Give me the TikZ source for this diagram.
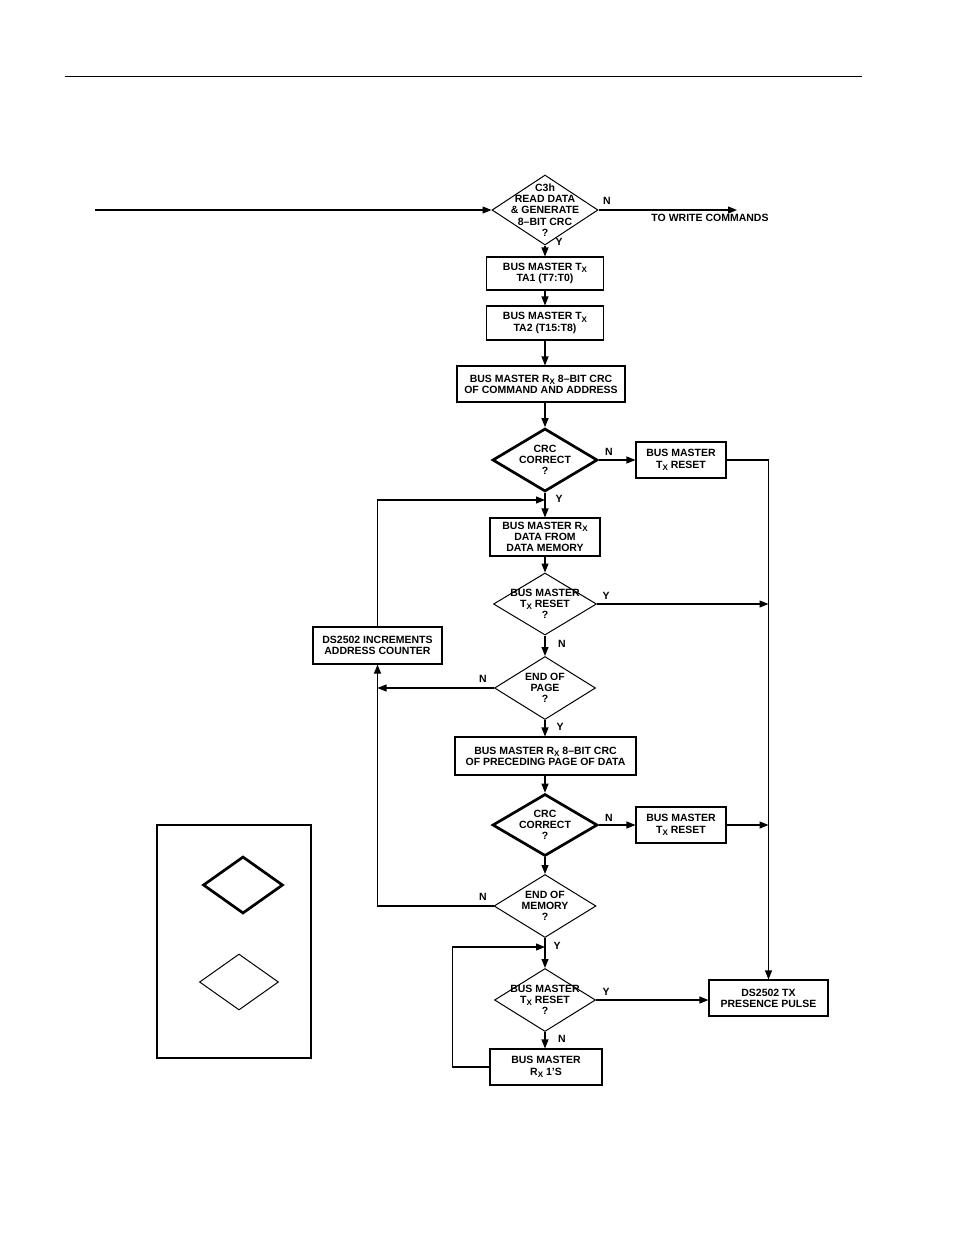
\documentclass[tikz,border=0pt]{standalone}
\usepackage{fontspec}
\setmainfont{Liberation Sans}
\usetikzlibrary{shapes.geometric,arrows.meta,calc}
\newcommand{\lowX}{\raisebox{-0.4ex}{\fontsize{8}{8}\selectfont X}}
\begin{document}
\begin{tikzpicture}[x=1pt,y=-1pt,
 txt/.style={font=\fontsize{10.5}{11.2}\selectfont\bfseries, align=center, inner sep=0pt},
 box/.style={draw, line width=1.1pt, txt},
 dia/.style={draw, diamond, line width=1pt, inner sep=0pt},
 thickdia/.style={dia, line width=2.7pt},
 arr/.style={line width=1.1pt, -{Triangle[length=9pt,width=7pt]}},
 ln/.style={line width=1.1pt}
]
\useasboundingbox (0,0) rectangle (954,1235);
\draw[line width=1pt] (65,76) -- (862,76);

% diamonds
\node[dia, minimum width=106pt, minimum height=70pt] (d1) at (545,210) {};
\node[txt] (d1t) at (545,210) {C3h\\READ DATA\\\& GENERATE\\8--BIT CRC\\?};
\node[thickdia, minimum width=105pt, minimum height=63pt] (d2) at (545,460) {};
\node[txt] (d2t) at (545,460) {CRC\\CORRECT\\?};
\node[dia, minimum width=103pt, minimum height=62pt] (d3) at (545,604) {};
\node[txt] (d3t) at (545,604) {BUS MASTER\\T\lowX{} RESET\\?};
\node[dia, minimum width=101pt, minimum height=63pt] (d4) at (545,688) {};
\node[txt] (d4t) at (545,688) {END OF\\PAGE\\?};
\node[thickdia, minimum width=105pt, minimum height=62pt] (d5) at (545,825) {};
\node[txt] (d5t) at (545,825) {CRC\\CORRECT\\?};
\node[dia, minimum width=102pt, minimum height=63pt] (d6) at (545,906) {};
\node[txt] (d6t) at (545,906) {END OF\\MEMORY\\?};
\node[dia, minimum width=101pt, minimum height=63pt] (d7) at (545,1000) {};
\node[txt] (d7t) at (545,1000) {BUS MASTER\\T\lowX{} RESET\\?};

% boxes
\node[box, minimum width=117pt, minimum height=33pt] (b1) at (545,273.5) {BUS MASTER T\lowX\\TA1 (T7:T0)};
\node[box, minimum width=117pt, minimum height=34pt] (b2) at (545,323) {BUS MASTER T\lowX\\TA2 (T15:T8)};
\node[box, minimum width=168pt, minimum height=36pt] (b3) at (541,384) {BUS MASTER R\lowX{} 8--BIT CRC\\OF COMMAND AND ADDRESS};
\node[box, minimum width=90pt, minimum height=36pt] (r1) at (681,460) {BUS MASTER\\T\lowX{} RESET};
\node[box, minimum width=110pt, minimum height=38pt] (b4) at (545,537) {BUS MASTER R\lowX\\DATA FROM\\DATA MEMORY};
\node[box, minimum width=129pt, minimum height=37pt] (inc) at (377.5,645.5) {DS2502 INCREMENTS\\ADDRESS COUNTER};
\node[box, minimum width=181pt, minimum height=38pt] (b5) at (545.5,756) {BUS MASTER R\lowX{} 8--BIT CRC\\OF PRECEDING PAGE OF DATA};
\node[box, minimum width=90pt, minimum height=36pt] (r2) at (681,825) {BUS MASTER\\T\lowX{} RESET};
\node[box, minimum width=112pt, minimum height=36pt] (b7) at (546,1067) {BUS MASTER\\R\lowX{} 1'S};
\node[box, minimum width=119pt, minimum height=36pt] (ptx) at (768.5,998) {DS2502 TX\\PRESENCE PULSE};

% legend
\draw[line width=1.1pt] (157,825) rectangle (311,1058);
\node[thickdia, minimum width=80pt, minimum height=57pt] (lg1) at (243,885) {};
\node[dia, minimum width=79pt, minimum height=56pt] (lg2) at (239,982) {};

% coordinates
\coordinate (in) at (95,210);
\coordinate (tw) at (737,210);
\coordinate (j1) at (545,500);
\coordinate (j2) at (545,947);

% connectors
\draw[arr] (in) -- (d1.west);
\draw[arr] (d1.east) -- (tw);
\draw[arr] (d1.south) -- (b1.north);
\draw[arr] (b1.south) -- (b2.north);
\draw[arr] (b2.south) -- (b2.south |- b3.north);
\draw[arr] (b3.south -| d2.north) -- (d2.north);
\draw[arr] (d2.east) -- (r1.west);
\draw[arr] (r1.east) -| (ptx.north);
\draw[arr] (d2.south) -- (b4.north);
\draw[arr] (inc.north) |- (j1);
\draw[arr] (b4.south) -- (d3.north);
\draw[arr] (d3.east) -- (d3.east -| ptx.north);
\draw[arr] (d3.south) -- (d4.north);
\draw[arr] (d4.west) -- (d4.west -| inc.south);
\draw[arr] (d4.south) -- (d4.south |- b5.north);
\draw[arr] (b5.south -| d5.north) -- (d5.north);
\draw[arr] (d5.east) -- (r2.west);
\draw[arr] (r2.east) -- (r2.east -| ptx.north);
\draw[arr] (d5.south) -- (d5.south |- d6.north);
\draw[arr] (d6.west) -| (inc.south);
\draw[arr] (d6.south -| d7.north) -- (d7.north);
\draw[arr] (b7.west) -- ++(-37,0) |- (j2);
\draw[arr] (d7.east) -- (ptx.west |- d7.east);
\draw[arr] (d7.south) -- (d7.south |- b7.north);

% labels
\node[txt] (tl) at (710,218) {TO WRITE COMMANDS};
\node[txt] (l1) at (607,201) {N};
\node[txt] (l2) at (559,242) {Y};
\node[txt] (l3) at (609,452) {N};
\node[txt] (l4) at (559,499) {Y};
\node[txt] (l5) at (606,596) {Y};
\node[txt] (l6) at (562,644) {N};
\node[txt] (l7) at (483,679) {N};
\node[txt] (l8) at (560,727) {Y};
\node[txt] (l9) at (609,818) {N};
\node[txt] (l10) at (483,897) {N};
\node[txt] (l11) at (557,946) {Y};
\node[txt] (l12) at (606,992) {Y};
\node[txt] (l13) at (562,1039) {N};
\end{tikzpicture}
\end{document}
